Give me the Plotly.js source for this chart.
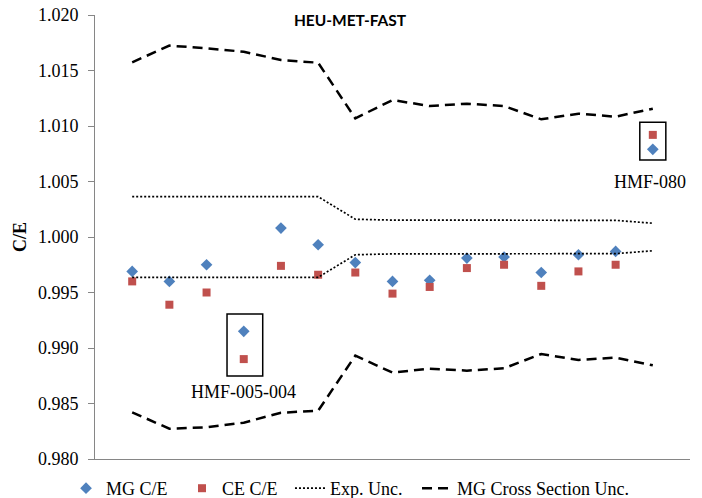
<!DOCTYPE html>
<html>
<head>
<meta charset="utf-8">
<script src="https://cdn.plot.ly/plotly-3.0.1.min.js"></script>
<style>html,body{margin:0;padding:0;background:#fff;}#chart{width:702px;height:498px;}</style>
</head>
<body>
<div id="chart"></div>
<script>
var xIndex = [1,2,3,4,5,6,7,8,9,10,11,12,13,14,15];
var mgCE = [0.9969,0.9960,0.9975,0.9915,1.0008,0.9993,0.9977,0.9960,0.9961,0.9981,0.9982,0.9968,0.9984,0.9987,1.0079];
var ceCE = [0.9960,0.9939,0.9950,0.9890,0.9974,0.9966,0.9968,0.9949,0.9955,0.9972,0.9975,0.9956,0.9969,0.9975,1.0092];
var expUncUpper = [1.00363,1.00363,1.00363,1.00363,1.00363,1.00363,1.0016,1.00152,1.00152,1.00152,1.00152,1.00152,1.00152,1.0015,1.00124];
var expUncLower = [0.99637,0.99637,0.99637,0.99637,0.99637,0.99637,0.9984,0.99848,0.99848,0.99848,0.99848,0.99848,0.99848,0.9985,0.99876];
var mgXsUpper = [1.01574,1.01724,1.01700,1.01669,1.01595,1.01570,1.01069,1.01234,1.01180,1.01201,1.01180,1.01060,1.01111,1.01084,1.01156];
var mgXsLower = [0.98421,0.98273,0.98285,0.98327,0.98417,0.98435,0.98931,0.98778,0.98814,0.98796,0.98817,0.98946,0.98892,0.98913,0.98844];
var yTicks = [0.980,0.985,0.990,0.995,1.000,1.005,1.010,1.015,1.020];

var serif = "Liberation Serif, Times New Roman, serif";
var traces = [
  {x:xIndex, y:mgCE, name:"MG C/E", mode:"markers", type:"scatter", legend:"legend",
   marker:{symbol:"diamond", size:9, color:"#4F81BD"}},
  {x:xIndex, y:ceCE, name:"CE C/E", mode:"markers", type:"scatter", legend:"legend2",
   marker:{symbol:"square", size:8, color:"#C0504D"}},
  {x:xIndex, y:expUncUpper, name:"Exp. Unc.", mode:"lines", type:"scatter", legend:"legend3",
   line:{color:"#000", width:1.7, dash:"2px,2px"}},
  {x:xIndex, y:expUncLower, name:"Exp. Unc.", mode:"lines", type:"scatter", showlegend:false,
   line:{color:"#000", width:1.7, dash:"2px,2px"}},
  {x:xIndex, y:mgXsUpper, name:"MG Cross Section Unc.", mode:"lines", type:"scatter", legend:"legend4",
   line:{color:"#000", width:2.5, dash:"10px,6px"}},
  {x:xIndex, y:mgXsLower, name:"MG Cross Section Unc.", mode:"lines", type:"scatter", showlegend:false,
   line:{color:"#000", width:2.5, dash:"10px,6px"}}
];

function leg(x) {
  return {orientation:"h", x:x, xanchor:"left", y:-0.0248, yanchor:"top",
          font:{family:serif, size:18, color:"#000"}, bgcolor:"rgba(0,0,0,0)"};
}

var layout = {
  width:702, height:498,
  margin:{l:95, r:12, t:15, b:39, autoexpand:false},
  paper_bgcolor:"#fff", plot_bgcolor:"#fff",
  showlegend:true,
  font:{family:serif, size:18, color:"#000"},
  title:{text:"<b>HEU-MET-FAST</b>", font:{family:"Lato, Open Sans, sans-serif", size:15.5, color:"#000"},
         xref:"paper", x:0.4286, xanchor:"center", yref:"container", y:0.958, yanchor:"middle"},
  xaxis:{range:[0,16], showticklabels:false, ticks:"", showgrid:false, zeroline:false,
         showline:true, linecolor:"#868686", linewidth:1},
  yaxis:{range:[0.98,1.02], tickvals:yTicks, tickformat:".3f", showgrid:false, zeroline:false,
         showline:true, linecolor:"#868686", linewidth:1, ticks:"outside", ticklen:6, tickcolor:"#868686",
         ticklabelstandoff:6,
         tickfont:{family:serif, size:18, color:"#000"},
         title:{text:"<b>C/E</b>", font:{family:serif, size:18, color:"#000"}, standoff:6}},
  legend:leg(-0.0487),
  legend2:leg(0.1462),
  legend3:leg(0.3277),
  legend4:leg(0.5412),
  annotations:[
    {x:4, y:0.98606, xref:"x", yref:"y", text:"HMF-005-004", showarrow:false,
     font:{family:serif, size:18, color:"#000"}},
    {x:14.92, y:1.00498, xref:"x", yref:"y", text:"HMF-080", showarrow:false,
     font:{family:serif, size:18, color:"#000"}}
  ],
  shapes:[
    {type:"rect", xref:"x", yref:"y", x0:3.55, x1:4.51, y0:0.98748, y1:0.99306, line:{color:"#000", width:1.5}},
    {type:"rect", xref:"x", yref:"y", x0:14.65, x1:15.35, y0:1.00694, y1:1.01033, line:{color:"#000", width:1.5}}
  ]
};
Plotly.newPlot("chart", traces, layout, {displayModeBar:false, staticPlot:true});
</script>
</body>
</html>
